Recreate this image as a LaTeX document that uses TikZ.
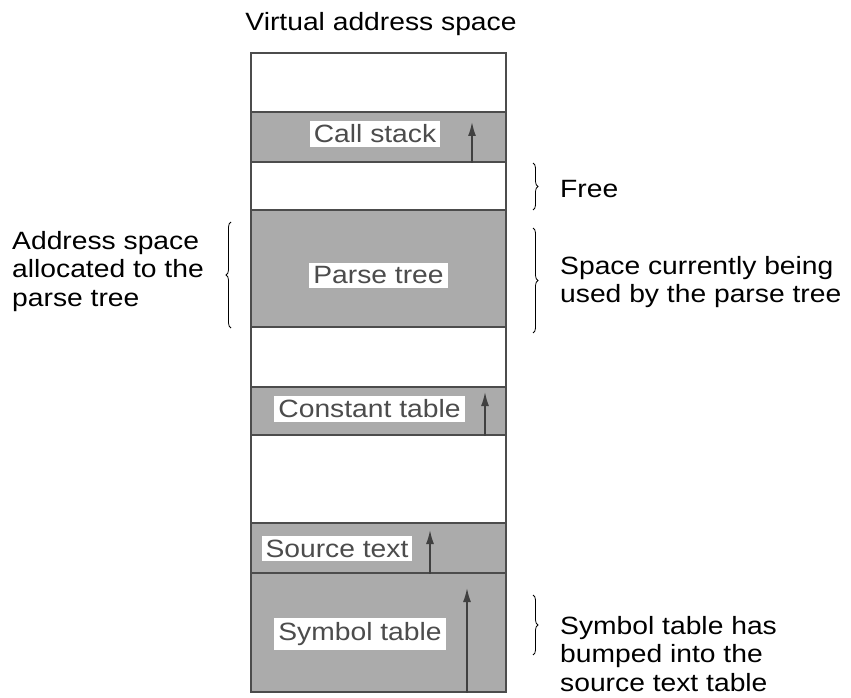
\documentclass[tikz,border=0pt]{standalone}
\usepackage{fontspec}
\setmainfont[FakeStretch=1.13]{Liberation Sans}
\usetikzlibrary{arrows.meta,decorations.pathreplacing}

\begin{document}
\begin{tikzpicture}[x=1pt, y=-1pt,
    band/.style = {fill=black!33, draw=black!70, line width=1.2pt, minimum width=255pt, inner sep=0pt},
    tag/.style = {fill=white, text=black!70, inner sep=4pt, font=\fontsize{25}{29}\selectfont},
    note/.style = {align=left, anchor=north west, inner sep=0pt, font=\fontsize{25}{28.5}\selectfont},
    growarrow/.style = {-{Latex[length=14pt, width=8pt]}, line width=1.6pt, draw=black!75, fill=black!75},
    brc/.style = {decorate, decoration={brace, amplitude=5pt}, line width=0.8pt}]
    \useasboundingbox (0,0) rectangle (851,698);

    \node (title) at (381,24) {\fontsize{25}{29}\selectfont Virtual address space};

    % the address space and its regions
    \node[band, minimum height=50pt] (stack) at (378.5,137) {};
    \node[band, minimum height=117pt] (tree) at (378.5,268.5) {};
    \node[band, minimum height=48pt] (const) at (378.5,411) {};
    \node[band, minimum height=50pt] (source) at (378.5,548) {};
    \node[band, minimum height=119pt] (symbol) at (378.5,632.5) {};
    \node[draw=black!70, line width=1.4pt, minimum width=255pt, minimum height=639pt, inner sep=0pt] (space) at (378.5,372.5) {};

    \node[tag] (stacktxt) at (375,134) {Call stack};
    \node[tag] (treetxt) at (378.5,275.5) {Parse tree};
    \node[tag] (consttxt) at (369.5,409) {Constant table};
    \node[tag] (sourcetxt) at (337,548.5) {Source text};
    \node[tag] (symboltxt) at (360,634) {Symbol table};

    % growth directions
    \coordinate (stacktip) at (472,122);
    \coordinate (consttip) at (485,392);
    \coordinate (sourcetip) at (430,530);
    \coordinate (symboltip) at (467,588);
    \draw[growarrow] (stack.south -| stacktip) -- (stacktip);
    \draw[growarrow] (const.south -| consttip) -- (consttip);
    \draw[growarrow] (source.south -| sourcetip) -- (sourcetip);
    \draw[growarrow] (symbol.south -| symboltip) -- (symboltip);

    % remarks
    \coordinate (la) at (231,328);
    \coordinate (lb) at (231,222);
    \coordinate (fa) at (533,163);
    \coordinate (fb) at (533,210);
    \coordinate (ua) at (533,228);
    \coordinate (ub) at (533,333);
    \coordinate (sa) at (533,595);
    \coordinate (sb) at (533,655);
    \draw[brc] (la) -- (lb);
    \draw[brc] (fa) -- (fb);
    \draw[brc] (ua) -- (ub);
    \draw[brc] (sa) -- (sb);

    \node[note] (alloc) at (12,231) {Address space\\allocated to the\\parse tree};
    \node[note] (free) at (560,180) {Free};
    \node[note] (used) at (560,256) {Space currently being\\used by the parse tree};
    \node[note] (bumped) at (560,616) {Symbol table has\\bumped into the\\source text table};
\end{tikzpicture}
\end{document}
